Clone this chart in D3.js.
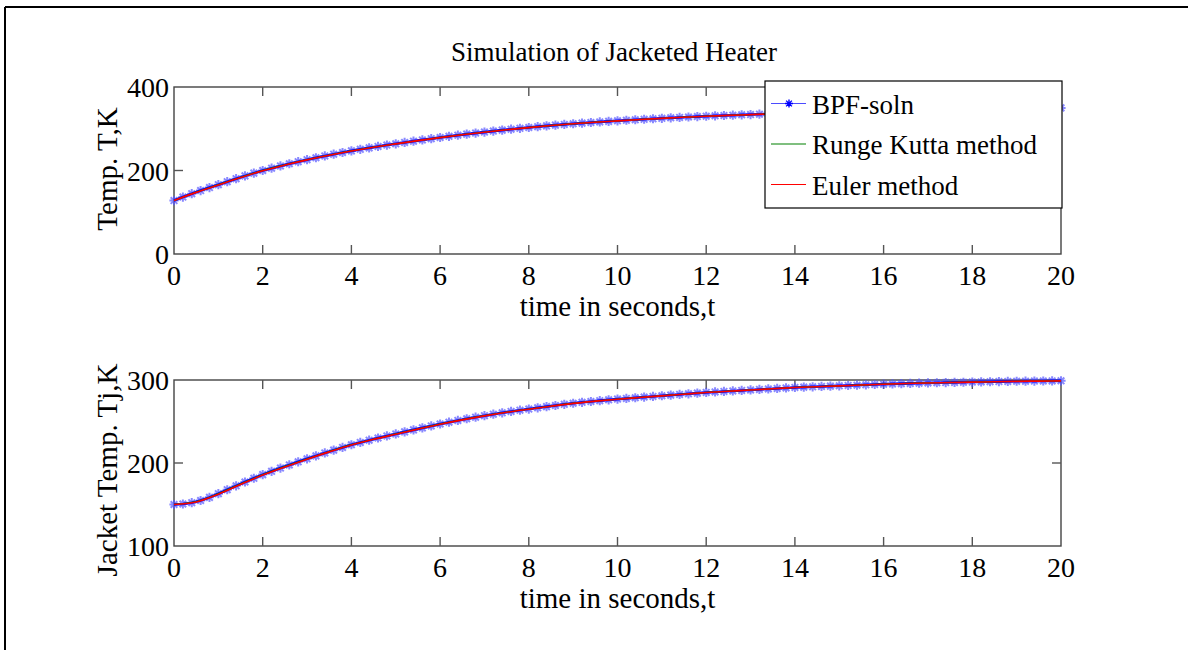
<!DOCTYPE html>
<html>
<head>
<meta charset="utf-8">
<script src="https://cdn.jsdelivr.net/npm/d3@7"></script>
<style>
  html, body { margin: 0; padding: 0; background: #fff; }
  svg { display: block; }
  text { font-family: "Liberation Serif", "Times New Roman", serif; fill: #000; }
</style>
</head>
<body>
<svg id="chart" width="1188" height="650"></svg>
<script>
// Reactor temperature T (K): block-pulse-function solution, sampled every 0.2 s
const bpfT = [
  128.0, 136.4, 144.4, 152.0, 159.2, 166.0,
  173.3, 180.3, 187.1, 193.7, 200.0,
  205.6, 211.0, 216.2, 221.2, 226.0,
  230.5, 234.8, 239.0, 243.1, 247.0,
  250.7, 254.2, 257.6, 260.9, 264.0,
  267.2, 270.3, 273.3, 276.2, 279.0,
  281.8, 284.5, 287.1, 289.6, 292.0,
  294.4, 296.7, 298.9, 301.0, 303.0,
  305.0, 306.9, 308.7, 310.4, 312.0,
  313.5, 315.0, 316.4, 317.7, 319.0,
  320.3, 321.5, 322.7, 323.9, 325.0,
  326.1, 327.1, 328.1, 329.1, 330.0,
  330.9, 331.7, 332.5, 333.3, 334.0,
  334.8, 335.5, 336.2, 336.9, 337.5,
  338.2, 338.8, 339.4, 340.0, 340.5,
  341.1, 341.6, 342.1, 342.6, 343.0,
  343.4, 343.8, 344.2, 344.6, 345.0,
  345.4, 345.8, 346.2, 346.6, 347.0,
  347.3, 347.6, 347.9, 348.2, 348.5,
  348.8, 349.1, 349.4, 349.7, 350.0
];
// Jacket temperature Tj (K): block-pulse-function solution, sampled every 0.2 s
const bpfTj = [
  150.0, 150.6, 152.2, 154.8, 158.6, 163.0,
  167.8, 172.5, 177.1, 181.6, 186.0,
  190.0, 193.9, 197.7, 201.4, 205.0,
  208.6, 212.1, 215.5, 218.8, 222.0,
  224.8, 227.5, 230.1, 232.6, 235.0,
  237.5, 239.9, 242.3, 244.7, 247.0,
  249.2, 251.3, 253.3, 255.2, 257.0,
  258.8, 260.5, 262.1, 263.6, 265.0,
  266.5, 267.9, 269.3, 270.7, 272.0,
  273.1, 274.1, 275.1, 276.1, 277.0,
  277.8, 278.6, 279.4, 280.2, 281.0,
  281.8, 282.6, 283.4, 284.2, 285.0,
  285.6, 286.2, 286.8, 287.4, 288.0,
  288.6, 289.2, 289.8, 290.4, 291.0,
  291.4, 291.8, 292.2, 292.6, 293.0,
  293.4, 293.8, 294.2, 294.6, 295.0,
  295.3, 295.6, 295.9, 296.2, 296.5,
  296.7, 296.9, 297.1, 297.3, 297.5,
  297.7, 297.9, 298.1, 298.3, 298.5,
  298.6, 298.7, 298.8, 298.9, 299.0
];
// Runge Kutta and Euler solutions, every 0.5 s
const rkT = [
  128.0, 148.2, 166.0, 183.7, 200.0, 213.6, 226.0, 236.9, 247.0, 255.9, 264.0,
  271.8, 279.0, 285.8, 292.0, 297.8, 303.0, 307.8, 312.0, 315.7, 319.0,
  322.1, 325.0, 327.6, 330.0, 332.1, 334.0, 335.9, 337.5, 339.1, 340.5,
  341.9, 343.0, 344.0, 345.0, 346.0, 347.0, 347.8, 348.5, 349.3, 350.0
];
const eulerT = [
  128.0, 147.6, 165.3, 183.0, 199.4, 213.1, 225.5, 236.5, 246.6, 255.6, 263.7,
  271.5, 278.8, 285.6, 291.8, 297.6, 302.8, 307.6, 311.9, 315.6, 318.9,
  322.0, 324.9, 327.5, 329.9, 332.0, 333.9, 335.8, 337.4, 339.0, 340.4,
  341.8, 342.9, 344.0, 345.0, 345.9, 346.9, 347.7, 348.4, 349.2, 349.9
];
const rkTj = [
  150.0, 153.4, 163.0, 174.8, 186.0, 195.8, 205.0, 213.8, 222.0, 228.8, 235.0,
  241.1, 247.0, 252.3, 257.0, 261.3, 265.0, 268.6, 272.0, 274.6, 277.0,
  279.0, 281.0, 283.0, 285.0, 286.5, 288.0, 289.5, 291.0, 292.0, 293.0,
  294.0, 295.0, 295.8, 296.5, 297.0, 297.5, 298.0, 298.5, 298.8, 299.0
];
const eulerTj = [
  150.0, 153.0, 162.4, 174.2, 185.5, 195.3, 204.6, 213.4, 221.6, 228.5, 234.7,
  240.8, 246.7, 252.0, 256.8, 261.1, 264.8, 268.4, 271.8, 274.5, 276.9,
  278.9, 280.9, 282.9, 284.9, 286.4, 287.9, 289.4, 290.9, 291.9, 292.9,
  293.9, 294.9, 295.7, 296.4, 296.9, 297.4, 297.9, 298.4, 298.7, 298.9
];

const xTicks = [0, 2, 4, 6, 8, 10, 12, 14, 16, 18, 20];
const yTicksTop = [0, 200, 400];
const yTicksBottom = [100, 200, 300];
const legendLabels = ["BPF-soln", "Runge Kutta method", "Euler method"];
const titleText = "Simulation of Jacketed Heater";
const xLabelText = "time in seconds,t";
const yLabelTop = "Temp. T,K";
const yLabelBottom = "Jacket Temp. Tj,K";

// time grids
const tFine = d3.range(bpfT.length).map(i => i * 0.2);
const tCoarse = d3.range(rkT.length).map(i => i * 0.5);

const svg = d3.select("#chart");
const TICK_FS = 28, LABEL_FS = 29, TITLE_FS = 27, LEGEND_FS = 27;
const blue = "#0000ff", green = "#008000", red = "#ff0000";

// page frame (left and top edges)
svg.append("line").attr("x1", 5).attr("y1", 7).attr("x2", 5).attr("y2", 650)
  .attr("stroke", "#000").attr("stroke-width", 2);
svg.append("line").attr("x1", 5).attr("y1", 7).attr("x2", 1188).attr("y2", 7)
  .attr("stroke", "#000").attr("stroke-width", 2);

const x = d3.scaleLinear().domain([0, 20]).range([174, 1061]);

function starPath(r) {
  const d = r * 0.72;
  return `M${-r},0H${r}M0,${-r}V${r}M${-d},${-d}L${d},${d}M${-d},${d}L${d},${-d}`;
}

function panel(opts) {
  const { top, bottom, domain, yTicks, bpf, rk, eu, ylabel, ylabelY } = opts;
  const y = d3.scaleLinear().domain(domain).range([bottom, top]);
  const g = svg.append("g");

  // box
  g.append("rect").attr("x", x(0)).attr("y", top)
    .attr("width", x(20) - x(0)).attr("height", bottom - top)
    .attr("fill", "#fff").attr("stroke", "#444").attr("stroke-width", 1.4);

  // inward ticks on all four sides
  const tl = 9;
  const ticks = g.append("g").attr("stroke", "#555").attr("stroke-width", 1.4);
  xTicks.slice(1, -1).forEach(v => {
    ticks.append("line").attr("x1", x(v)).attr("x2", x(v)).attr("y1", bottom).attr("y2", bottom - tl);
    ticks.append("line").attr("x1", x(v)).attr("x2", x(v)).attr("y1", top).attr("y2", top + tl);
  });
  yTicks.slice(1, -1).forEach(v => {
    ticks.append("line").attr("x1", x(0)).attr("x2", x(0) + tl).attr("y1", y(v)).attr("y2", y(v));
    ticks.append("line").attr("x1", x(20)).attr("x2", x(20) - tl).attr("y1", y(v)).attr("y2", y(v));
  });

  // tick labels
  xTicks.forEach(v => {
    g.append("text").attr("x", x(v)).attr("y", bottom + 31)
      .attr("text-anchor", "middle").attr("font-size", TICK_FS).text(v);
  });
  yTicks.forEach(v => {
    g.append("text").attr("x", x(0) - 5).attr("y", y(v) + 10)
      .attr("text-anchor", "end").attr("font-size", TICK_FS).text(v);
  });

  // axis labels
  g.append("text").attr("x", (x(0) + x(20)) / 2).attr("y", bottom + 62)
    .attr("text-anchor", "middle").attr("font-size", LABEL_FS).text(xLabelText);
  g.append("text").attr("transform", `translate(117,${ylabelY}) rotate(-90)`)
    .attr("text-anchor", "middle").attr("font-size", LABEL_FS).text(ylabel);

  // BPF solution: blue line with star markers
  const fine = tFine.map((t, i) => [t, bpf[i]]);
  g.append("g").selectAll("path").data(fine).join("path")
    .attr("transform", d => `translate(${x(d[0])},${y(d[1])})`)
    .attr("d", starPath(4.6))
    .attr("stroke", "#5555ff").attr("stroke-width", 2).attr("fill", "none")
    .attr("stroke-opacity", 0.7);
  const lineFine = d3.line().x(d => x(d[0])).y(d => y(d[1]));
  g.append("path").datum(fine).attr("d", lineFine)
    .attr("fill", "none").attr("stroke", blue).attr("stroke-width", 2.6);

  // Runge Kutta and Euler lines
  const lineCoarse = d3.line().x(d => x(d[0])).y(d => y(d[1])).curve(d3.curveMonotoneX);
  g.append("path").datum(tCoarse.map((t, i) => [t, rk[i]])).attr("d", lineCoarse)
    .attr("fill", "none").attr("stroke", green).attr("stroke-width", 1.3);
  g.append("path").datum(tCoarse.map((t, i) => [t, eu[i]])).attr("d", lineCoarse)
    .attr("fill", "none").attr("stroke", red).attr("stroke-width", 1.6);

  return { g, y };
}

panel({ top: 87, bottom: 254, domain: [0, 400], yTicks: yTicksTop,
        bpf: bpfT, rk: rkT, eu: eulerT, ylabel: yLabelTop, ylabelY: 169 });
panel({ top: 380, bottom: 546, domain: [100, 300], yTicks: yTicksBottom,
        bpf: bpfTj, rk: rkTj, eu: eulerTj, ylabel: yLabelBottom, ylabelY: 470 });

// title
svg.append("text").attr("x", 614).attr("y", 61).attr("text-anchor", "middle")
  .attr("font-size", TITLE_FS).text(titleText);

// legend
const lg = svg.append("g");
lg.append("rect").attr("x", 765).attr("y", 81).attr("width", 297).attr("height", 127)
  .attr("fill", "#fff").attr("stroke", "#000").attr("stroke-width", 1.2);
const legendColors = [blue, green, red];
legendLabels.forEach((lab, i) => {
  const cy = 103.5 + i * 40.5;
  lg.append("line").attr("x1", 771).attr("x2", 806).attr("y1", cy).attr("y2", cy)
    .attr("stroke", legendColors[i]).attr("stroke-width", 1.2)
    .attr("stroke-opacity", i === 0 ? 0.7 : 1);
  if (i === 0) {
    lg.append("path").attr("transform", `translate(789,${cy})`).attr("d", starPath(4))
      .attr("stroke", blue).attr("stroke-width", 1.4).attr("fill", "none");
  }
  lg.append("text").attr("x", 812).attr("y", cy + 10).attr("font-size", LEGEND_FS).text(lab);
});
</script>
</body>
</html>
